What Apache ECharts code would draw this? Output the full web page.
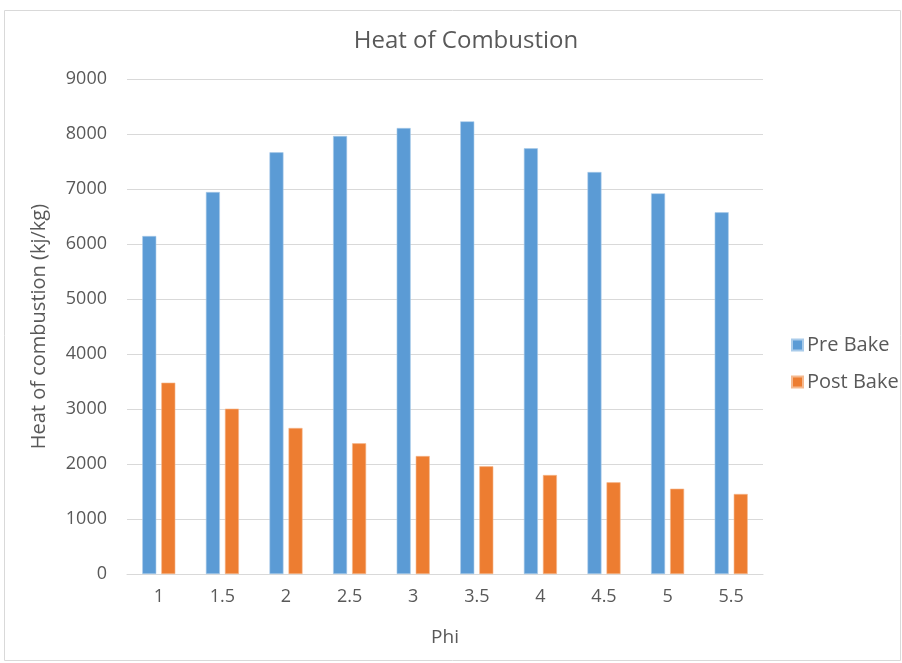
<!DOCTYPE html>
<html>
<head>
<meta charset="utf-8">
<script src="https://cdn.jsdelivr.net/npm/echarts@6/dist/echarts.min.js"></script>
<style>
  html, body { margin: 0; padding: 0; background: #fff; }
  #chart { width: 902px; height: 663px; }
</style>
</head>
<body>
<div id="chart"></div>
<script>
var phi = ['1', '1.5', '2', '2.5', '3', '3.5', '4', '4.5', '5', '5.5'];
var preBake = [6145, 6945, 7667, 7964, 8109, 8230, 7740, 7309, 6921, 6576];
var postBake = [3479, 3006, 2655, 2376, 2145, 1958, 1800, 1667, 1551, 1455];

var font = '"Open Sans", "Noto Sans", sans-serif';
var grey = '#595959';

var myChart = echarts.init(document.getElementById('chart'));
var option = {
  animation: false,
  textStyle: { fontFamily: font },
  graphic: [{
    type: 'rect',
    shape: { x: 4.5, y: 10.5, width: 896, height: 650 },
    style: { fill: 'none', stroke: '#d9d9d9', lineWidth: 1 },
    silent: true
  }],
  title: {
    text: 'Heat of Combustion',
    left: 461,
    textAlign: 'center',
    top: 24,
    textStyle: { fontFamily: font, fontSize: 24, fontWeight: 'normal', color: grey }
  },
  legend: {
    orient: 'vertical',
    left: 786,
    top: 330,
    itemWidth: 11,
    itemHeight: 11,
    itemGap: 17,
    icon: 'rect',
    textStyle: { fontFamily: font, fontSize: 20, color: grey, padding: [0, 0, 0, -1] },
    data: ['Pre Bake', 'Post Bake']
  },
  grid: { left: 127, right: 139, top: 79, bottom: 89 },
  xAxis: {
    type: 'category',
    data: phi,
    name: 'Phi',
    nameLocation: 'middle',
    nameGap: 54,
    nameTextStyle: { fontFamily: font, fontSize: 19, color: grey },
    axisLine: { lineStyle: { color: '#d9d9d9', width: 1 } },
    axisTick: { show: false },
    axisLabel: { fontFamily: font, fontSize: 18, color: grey, margin: 14 }
  },
  yAxis: {
    type: 'value',
    min: 0,
    max: 9000,
    interval: 1000,
    name: 'Heat of combustion (kj/kg)',
    nameLocation: 'middle',
    nameGap: 78,
    nameTextStyle: { fontFamily: font, fontSize: 20, color: grey },
    axisLine: { show: false },
    axisTick: { show: false },
    axisLabel: {
      fontFamily: font, fontSize: 18, color: grey, margin: 20,
      formatter: function (v) { return String(v); }
    },
    splitLine: { lineStyle: { color: '#d9d9d9', width: 1 } }
  },
  series: [
    {
      name: 'Pre Bake',
      type: 'bar',
      data: preBake,
      barWidth: 14,
      barGap: '36%',
      itemStyle: { color: '#5B9BD5', borderColor: '#a9cbea', borderWidth: 0.6 }
    },
    {
      name: 'Post Bake',
      type: 'bar',
      data: postBake,
      barWidth: 14,
      barGap: '36%',
      itemStyle: { color: '#ED7D31', borderColor: '#f5b98f', borderWidth: 0.6 }
    }
  ]
};
myChart.setOption(option);
</script>
</body>
</html>
